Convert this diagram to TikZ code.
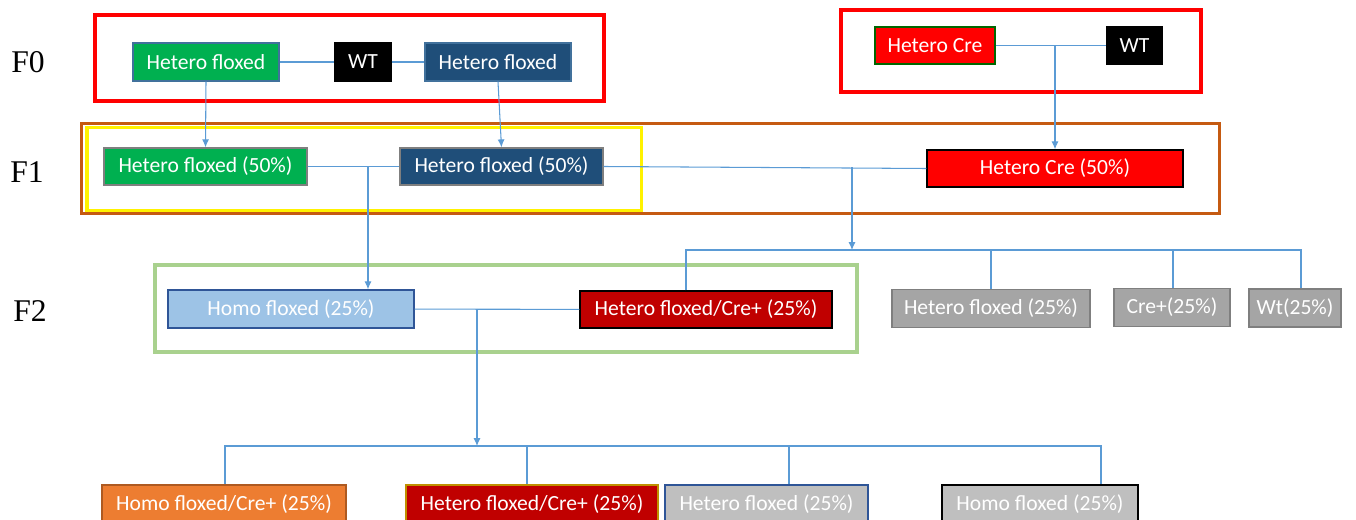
\documentclass[tikz,border=0pt]{standalone}
\usepackage{fontspec}
\setmainfont{Carlito}
\newfontfamily\genfont{Liberation Serif}
\usetikzlibrary{arrows.meta}

\definecolor{hetgreen}{HTML}{00B050}
\definecolor{hetblue}{HTML}{1F4E79}
\definecolor{hetblueline}{HTML}{41719C}
\definecolor{credark}{HTML}{C00000}
\definecolor{homoblue}{HTML}{9DC3E6}
\definecolor{homoline}{HTML}{2F5597}
\definecolor{homoorange}{HTML}{ED7D31}
\definecolor{orangeline}{HTML}{AE5A21}
\definecolor{greydark}{HTML}{A5A5A5}
\definecolor{greylight}{HTML}{BFBFBF}
\definecolor{greyline}{HTML}{7F7F7F}
\definecolor{goldline}{HTML}{BF9000}
\definecolor{linkblue}{HTML}{5B9BD5}
\definecolor{frbrown}{HTML}{C55A11}
\definecolor{frgreen}{HTML}{A9D18E}

\begin{document}
\begin{tikzpicture}[x=0.02cm,y=-0.02cm,
    box/.style={draw,text=white,minimum height=0.76cm,inner sep=0pt,
        line width=0.8pt,font=\fontsize{12.3}{14}\selectfont},
    link/.style={draw=linkblue,line width=0.6pt},
    tip/.style={-{Latex[length=4.5pt,width=4pt]}},
    gen/.style={font=\genfont\fontsize{18}{20}\selectfont}]
    \useasboundingbox (0,0) rectangle (1356,520);
    \clip (0,0) rectangle (1356,520);

    % generation frames
    \draw[red,line width=2.3pt] (95,15) rectangle (604,101);
    \draw[red,line width=2.3pt] (841,10) rectangle (1201,92);
    \draw[frbrown,line width=2.1pt] (81.5,123.5) rectangle (1219.5,213.5);
    \draw[yellow,line width=2.1pt] (87,127.5) rectangle (641.5,210.5);
    \draw[frgreen,line width=2.3pt] (155,265) rectangle (857,352);

    \node[gen] (lf0) at (28,62) {F0};
    \node[gen] (lf1) at (27,172) {F1};
    \node[gen] (lf2) at (30,311) {F2};

    % F0
    \node[box,fill=hetgreen,draw=hetblueline,minimum width=2.92cm] (f0a) at (206,62) {Hetero floxed};
    \node[box,fill=black,minimum width=1.12cm] (f0wt) at (363,62) {WT};
    \node[box,fill=hetblue,draw=hetblueline,minimum width=2.92cm] (f0b) at (498,62) {Hetero floxed};
    \node[box,fill=red,draw=green!40!black,minimum width=2.4cm,minimum height=0.74cm] (f0cre) at (935,45.5) {Hetero Cre};
    \node[box,fill=black,minimum width=1.1cm,minimum height=0.74cm] (f0wt2) at (1134.5,45.5) {WT};

    % F1
    \node[box,fill=hetgreen,draw=greyline,minimum width=4.06cm,minimum height=0.74cm] (f1a) at (205.5,166.5) {Hetero floxed (50\%)};
    \node[box,fill=hetblue,draw=greyline,minimum width=4.06cm,minimum height=0.74cm] (f1b) at (501.5,166.5) {Hetero floxed (50\%)};
    \node[box,fill=red,draw=black,minimum width=5.12cm,minimum height=0.74cm] (f1cre) at (1055,168.5) {Hetero Cre (50\%)};

    % F2
    \node[box,fill=homoblue,draw=homoline,minimum width=4.92cm] (f2a) at (291,309) {Homo floxed (25\%)};
    \node[box,fill=credark,draw=black,minimum width=5.04cm,minimum height=0.74cm] (f2b) at (706,309.5) {Hetero floxed/Cre+ (25\%)};
    \node[box,fill=greydark,draw=greyline,minimum width=3.96cm] (f2c) at (991,308.5) {Hetero floxed (25\%)};
    \node[box,fill=greydark,draw=greyline,minimum width=2.32cm] (f2d) at (1172,307.5) {Cre+(25\%)};
    \node[box,fill=greydark,draw=greyline,minimum width=1.84cm] (f2e) at (1295,308) {Wt(25\%)};

    % F3
    \node[box,fill=homoorange,draw=orangeline,minimum width=4.88cm] (f3a) at (224,504) {Homo floxed/Cre+ (25\%)};
    \node[box,fill=credark,draw=goldline,minimum width=5.04cm] (f3b) at (532,504) {Hetero floxed/Cre+ (25\%)};
    \node[box,fill=greylight,draw=homoline,minimum width=4.06cm] (f3c) at (766.5,504) {Hetero floxed (25\%)};
    \node[box,fill=greylight,draw=black,line width=1.2pt,minimum width=3.92cm] (f3d) at (1040,504) {Homo floxed (25\%)};

    % crosses
    \draw[link] (f0a) -- (f0wt);
    \draw[link] (f0wt) -- (f0b);
    \draw[link,tip] (f0a.south) -- (f1a.north);
    \draw[link,tip] (f0b.south) -- (f1b.north);
    \draw[link] (f0cre) -- (f0wt2);
    \coordinate (c0) at (1055,45.5);
    \draw[link,tip] (c0) -- (f1cre.north);

    \draw[link] (f1a) -- (f1b);
    \coordinate (c1) at (368,166.5);
    \draw[link,tip] (c1) -- (c1 |- f2a.north);
    \draw[link] (f1b.east) -- (f1cre.west);
    \coordinate (c2) at (852,167.5);
    \coordinate (b2) at (852,250);
    \draw[link,tip] (c2) -- (b2);
    \coordinate (b2l) at (686,250);
    \coordinate (b2c) at (991,250);
    \coordinate (b2d) at (1173,250);
    \coordinate (b2r) at (1301,250);
    \draw[link] (b2l |- f2b.north) -- (b2l) -- (b2r) -- (b2r |- f2e.north);
    \draw[link] (b2c) -- (b2c |- f2c.north);
    \draw[link] (b2d) -- (b2d |- f2d.north);

    \draw[link] (f2a) -- (f2b);
    \coordinate (c3) at (477,309);
    \coordinate (b3) at (477,446);
    \draw[link,tip] (c3) -- (b3);
    \coordinate (b3a) at (225,446);
    \coordinate (b3b) at (527,446);
    \coordinate (b3c) at (789,446);
    \coordinate (b3d) at (1101,446);
    \draw[link] (b3a |- f3a.north) -- (b3a) -- (b3d) -- (b3d |- f3d.north);
    \draw[link] (b3b) -- (b3b |- f3b.north);
    \draw[link] (b3c) -- (b3c |- f3c.north);
\end{tikzpicture}
\end{document}
